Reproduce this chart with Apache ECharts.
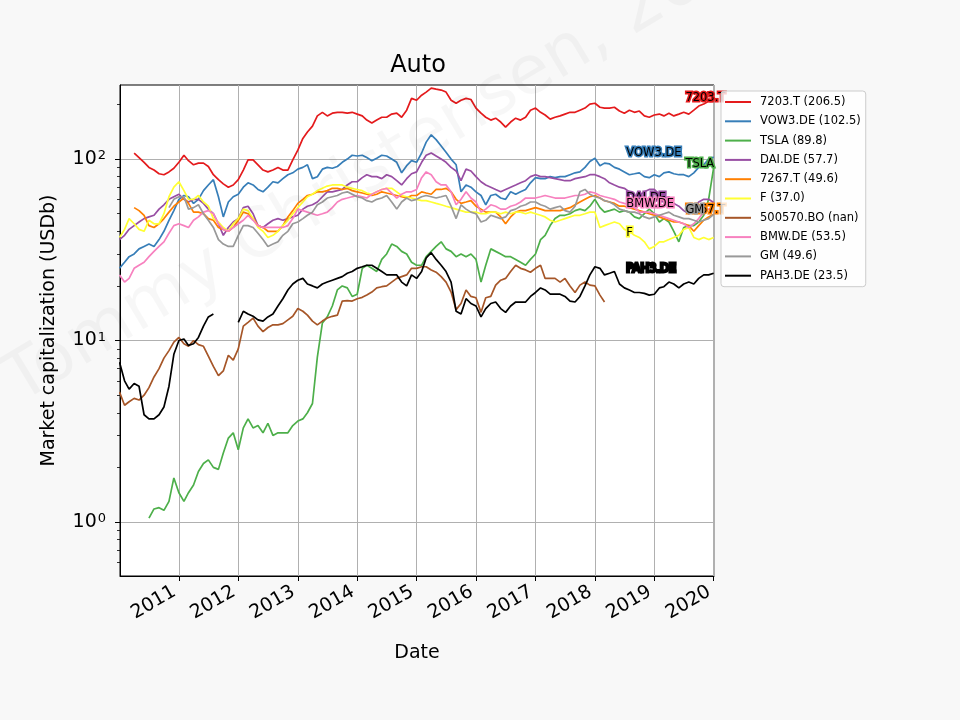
<!DOCTYPE html>
<html>
<head>
<meta charset="utf-8">
<title>Auto</title>
<script src="https://cdn.jsdelivr.net/npm/echarts@6/dist/echarts.min.js"></script>
<style>
  html, body { margin: 0; padding: 0; background: #f8f8f8; }
  #chart { width: 960px; height: 720px; }
</style>
</head>
<body>
<div id="chart"></div>
<script>
// tickers, legend values (last market cap, USDb) and line colours
var tickers = ['7203.T', 'VOW3.DE', 'TSLA', 'DAI.DE', '7267.T', 'F', '500570.BO', 'BMW.DE', 'GM', 'PAH3.DE'];
var lastCaps = ['206.5', '102.5', '89.8', '57.7', '49.6', '37.0', 'nan', '53.5', '49.6', '23.5'];
var colors = ['#e41a1c', '#377eb8', '#4daf4a', '#984ea3', '#ff7f00', '#ffff33', '#a65628', '#f781bf', '#999999', '#000000'];

// where the name tags sit along the time axis
var labelDates = ['2019-07-08', '2018-07-10', '2019-07-08', '2018-07-10', '2019-07-08',
                  '2018-07-10', '2019-07-08', '2018-07-10', '2019-07-08', '2018-07-10'];

// y axis ticks
var majorY = [1, 10, 100];
var minorY = [0.6, 0.7, 0.8, 0.9, 2, 3, 4, 5, 6, 7, 8, 9, 20, 30, 40, 50, 60, 70, 80, 90, 200];

// monthly sample dates, Jan 2010 .. Jan 2020 (121 points)
var months = [];
for (var yr = 2010; yr <= 2020; yr++) {
  for (var mo = 1; mo <= 12; mo++) {
    if (yr === 2020 && mo > 1) break;
    months.push(yr + '-' + (mo < 10 ? '0' : '') + mo + '-01');
  }
}

// market capitalization, USDb, one row per year
var cap7203 = [
  null, null, null, 108, 102, 96, 90, 87, 83, 82, 85, 89,
  96, 105, 98, 93, 95, 95, 91, 82, 77, 73, 70, 72,
  77, 87, 99, 99, 93, 87, 85, 87, 90, 87, 87, 99,
  112, 130, 141, 152, 173, 181, 173, 179, 181, 181, 179, 181,
  177, 173, 164, 158, 164, 170, 170, 177, 179, 170, 186, 216,
  211, 225, 234, 246, 243, 240, 234, 211, 203, 211, 216, 213,
  191, 179, 170, 164, 168, 160, 150, 160, 168, 164, 170, 186,
  191, 181, 175, 166, 170, 173, 177, 181, 181, 186, 191, 201,
  203, 193, 191, 191, 193, 184, 179, 186, 181, 184, 173, 170,
  175, 177, 173, 179, 173, 177, 181, 177, 186, 196, 201, 208,
  206.5
];
var capVOW3 = [
  25, 27, 29, 30, 32, 33, 34, 33, 36, 40, 46, 52,
  60, 63, 62, 57, 60, 67, 72, 77, 62, 48, 58, 62,
  64, 70, 74, 72, 68, 66, 70, 75, 74, 78, 82, 84,
  88, 90, 93, 78, 80, 88, 90, 89, 91, 96, 100, 105,
  104, 105, 102, 98, 101, 105, 104, 100, 96, 84, 92, 98,
  96, 108, 124, 136, 128, 118, 109, 100, 93, 66, 72, 70,
  66, 63, 56, 63, 64, 61, 60, 66, 64, 66, 68, 74,
  79, 78, 78, 80, 79, 80, 80, 82, 84, 85, 90, 97,
  101, 92, 95, 94, 90, 88, 85, 82, 83, 84, 80, 79,
  82, 80, 84, 85, 83, 82, 82, 80, 84, 90, 93, 100,
  102.5
];
var capTSLA = [
  null, null, null, null, null, null, 1.05, 1.18, 1.2, 1.16, 1.3, 1.75,
  1.45, 1.3, 1.45, 1.6, 1.9, 2.1, 2.2, 2.0, 1.95, 2.4, 2.9, 3.1,
  2.5, 3.3, 3.7, 3.3, 3.4, 3.1, 3.5, 3.0, 3.1, 3.1, 3.1, 3.4,
  3.6, 3.7, 4.0, 4.5, 8.1, 12.5, 13.5, 15.5, 19, 20, 19.5, 17.5,
  18, 25, 26, 25, 24, 28, 30, 34, 33, 31, 30, 27,
  26, 26, 29, 31, 33, 35, 32, 31, 29, 30, 29, 30,
  28, 21, 26, 32, 31, 30, 29, 29, 28, 27, 26, 28,
  30, 36, 38, 43, 47, 49, 49, 50, 52, 53, 52, 55,
  60, 54, 51, 52, 53, 51, 52, 51, 48, 47, 50, 53,
  50, 45, 47, 45, 40, 35, 42, 43, 43, 45, 49, 60,
  89.8
];
var capDAI = [
  36, 38, 41, 43, 45, 47, 48, 49, 53, 56, 60, 62,
  64, 60, 58, 60, 60, 57, 53, 50, 44, 38, 42, 45,
  47, 54, 55, 50, 43, 42, 44, 46, 47, 46, 47, 48,
  49, 53, 55, 56, 58, 62, 66, 66, 67, 68, 72, 75,
  75, 79, 82, 80, 80, 78, 82, 80, 76, 72, 78, 83,
  85, 96, 105, 108, 104, 100, 96, 90, 86, 76, 88, 86,
  80, 75, 72, 70, 68, 66, 68, 70, 72, 74, 76, 80,
  82, 80, 80, 79, 78, 77, 76, 76, 78, 79, 80, 82,
  82, 80, 78, 74, 72, 70, 69, 66, 63, 63, 66, 68,
  68, 64, 61, 62, 57, 55, 52, 50, 54, 58, 60, 60,
  57.7
];
var cap7267 = [
  null, null, null, 54, 52, 49, 43, 42, 44, 47, 51, 55,
  58, 61, 57, 51, 51, 50, 47, 46, 42, 41, 40, 42,
  46, 51, 50, 47, 43, 42, 40, 40, 40, 43, 48, 52,
  57, 60, 63, 64, 66, 66, 67, 69, 69, 68, 69, 67,
  66, 65, 64, 63, 64, 66, 65, 64, 63, 62, 61, 63,
  63, 66, 65, 64, 68, 68, 69, 66, 60, 57, 58, 59,
  55, 53, 51, 51, 51, 48, 44, 48, 51, 52, 52, 53,
  54, 53, 52, 52, 52, 52, 53, 54, 56, 58, 60, 62,
  63, 61, 59, 58, 57, 55, 55, 54, 53, 52, 51, 50,
  49, 48, 47, 46, 45, 45, 44, 43, 40, 43, 46, 48,
  49.6
];
var capF = [
  37, 41, 47, 44, 41, 40, 46, 44, 44, 50, 62, 70,
  75, 67, 60, 60, 63, 58, 55, 47, 45, 42, 40, 44,
  47, 53, 52, 47, 42, 40, 37, 38, 40, 43, 46, 50,
  54, 58, 62, 64, 67, 69, 71, 72, 72, 72, 70, 69,
  68, 67, 65, 64, 66, 68, 69, 69, 66, 63, 62, 61,
  60, 59, 59, 58, 57, 56, 55, 54, 53, 52, 51, 51,
  51, 50, 50, 51, 51, 50, 51, 50, 51, 51, 50, 51,
  50, 49, 48, 46, 45, 46, 47, 48, 49, 49, 50, 51,
  51, 42, 43, 44, 45, 44, 41, 40, 38, 37, 35, 32,
  33, 35, 35, 36, 37, 38, 41, 42, 37, 36, 37, 36,
  37
];
var cap500570 = [
  5.2, 4.4, 4.6, 4.8, 4.7, 5.0, 5.5, 6.3, 7.0, 8.0, 8.8, 9.8,
  10.4, 9.6, 9.3, 10.0, 9.5, 9.3, 8.2, 7.2, 6.4, 6.8, 8.3, 7.8,
  9.0, 12.0, 12.6, 13.3, 12.0, 11.2, 11.8, 12.2, 12.2, 12.4, 13.0, 13.6,
  15.0, 14.5, 13.8, 12.8, 12.2, 12.8, 13.3, 13.6, 13.8, 16.5, 16.6, 16.5,
  17.0, 17.3, 17.8, 18.5, 19.5, 19.8, 20.0, 21.0, 22.0, 22.5, 23.0, 25.0,
  25.0, 25.5, 25.5, 24.5, 23.8, 22.5, 21.0, 18.5, 14.8, 16.0, 19.0, 17.5,
  17.2, 14.3, 17.2, 17.5, 20.2, 21.5, 22.0, 24.0, 26.0, 25.0, 24.5, 23.8,
  25.0, 26.0, 22.0, 22.0, 22.0, 21.0, 22.0, 20.0, 18.4, 20.2, 21.0, 20.2,
  20.0, 17.8, 16.3, null, null, null, null, null, null, null, null, null,
  null, null, null, null, null, null, null, null, null, null, null, null,
  null
];
var capBMW = [
  23, 21, 22, 25, 26, 27, 29, 31, 33, 35, 39, 43,
  44, 43, 42, 46, 48, 51, 52, 50, 44, 41, 40, 42,
  44, 46, 49, 46, 43, 42, 42, 42, 42, 42, 43, 47,
  53, 52, 51, 50, 49, 50, 51, 54, 58, 60, 61, 62,
  63, 62, 61, 64, 66, 68, 69, 65, 61, 64, 66, 66,
  68, 79, 85, 82, 75, 72, 72, 66, 56, 60, 66, 61,
  58, 51, 53, 56, 55, 53, 53, 55, 56, 58, 61, 61,
  61, 62, 63, 62, 61, 61, 61, 62, 63, 63, 64, 66,
  65, 63, 62, 61, 60, 58, 57, 56, 54, 51, 51, 51,
  50, 49, 48, 47, 46, 45, 44, 42, 44, 47, 51, 53,
  53.5
];
var capGM = [
  null, null, null, null, null, null, null, null, null, null, 54, 60,
  62, 62, 53, 54, 56, 50, 46, 42, 36, 34, 33, 33,
  38, 43, 43, 42, 39, 36, 33, 34, 35, 38, 40, 44,
  45, 47, 49, 51, 56, 58, 61, 62, 63, 65, 66, 64,
  62, 61, 59, 58, 60, 61, 63, 58, 53, 58, 61, 59,
  60, 62, 63, 62, 61, 62, 63, 55, 47, 56, 53, 51,
  50, 45, 46, 49, 48, 47, 48, 52, 53, 55, 56, 58,
  58, 56, 55, 53, 54, 55, 52, 51, 55, 66, 68, 64,
  62, 61, 59, 58, 56, 53, 52, 51, 51, 50, 48, 47,
  48, 49, 50, 51, 49, 48, 47, 47, 46, 45, 46, 47,
  49.6
];
var capPAH3 = [
  7.6, 6.0, 5.4, 5.8, 5.6, 3.9, 3.7, 3.7, 3.9, 4.3, 5.6, 8.4,
  10.0, 10.2, 9.4, 9.6, 10.4, 12.0, 13.5, 14.0, null, null, null, null,
  12.6, 14.5, 14.0, 13.6, 13.0, 12.8, 13.5, 14.0, 15.5, 17.0, 19.0, 20.5,
  21.5, 22.0, 20.5, 20.0, 19.5, 20.5, 21.0, 21.5, 22.0, 22.5, 23.5, 24.0,
  25.0, 25.5, 26.0, 26.0, 25.0, 24.0, 23.0, 23.0, 23.0, 21.0, 20.0, 23.0,
  22.0, 24.0, 28.5, 30.5, 28.0, 26.0, 24.0, 21.0, 14.5, 14.0, 17.0, 16.0,
  15.5, 13.5, 15.0, 16.0, 16.3, 15.0, 14.3, 15.5, 16.3, 16.3, 16.3, 17.5,
  18.4, 19.5, 19.0, 18.0, 18.0, 18.0, 17.5, 16.5, 16.3, 17.5, 20.0, 23.0,
  25.5, 25.0, 23.0, 23.5, 24.0, 20.5, 19.5, 19.0, 18.4, 18.4, 18.2, 17.8,
  18.0, 19.5, 19.8, 21.0, 20.5, 19.5, 20.5, 21.0, 20.5, 22.0, 23.0, 23.0,
  23.5
];

var allCaps = [cap7203, capVOW3, capTSLA, capDAI, cap7267, capF, cap500570, capBMW, capGM, capPAH3];
var font = 'DejaVu Sans';
var YEAR = 365 * 24 * 3600 * 1000;

var chart = echarts.init(document.getElementById('chart'), null, { renderer: 'canvas' });

var series = tickers.map(function (t, i) {
  var pts = months.map(function (d, k) { return [d, allCaps[i][k]]; });
  var s = {
    name: t + ' (' + lastCaps[i] + ')',
    type: 'line',
    data: pts,
    showSymbol: false,
    connectNulls: false,
    color: colors[i],
    lineStyle: { width: 1.7, color: colors[i] },
    emphasis: { disabled: true },
    z: 2
  };
  var last = parseFloat(lastCaps[i]);
  if (!isNaN(last)) {
    s.markPoint = {
      silent: true,
      z: 5,
      symbol: 'rect',
      symbolSize: 1,
      itemStyle: { color: 'rgba(0,0,0,0)' },
      label: {
        show: true,
        position: 'right',
        distance: 0,
        offset: [0, -4],
        formatter: t,
        color: '#000',
        fontFamily: font,
        fontSize: 11.5,
        textBorderColor: colors[i],
        textBorderWidth: 3
      },
      data: [{ coord: [labelDates[i], last] }]
    };
  }
  return s;
});

var option = {
  backgroundColor: '#f8f8f8',
  animation: false,
  textStyle: { fontFamily: font },
  title: {
    text: 'Auto',
    left: 413,
    top: 49,
    textAlign: 'center',
    textStyle: { fontFamily: font, fontSize: 24, fontWeight: 'normal', color: '#000' }
  },
  grid: {
    left: 120, top: 85, width: 594, height: 491,
    show: true, backgroundColor: '#ffffff', borderColor: '#000', borderWidth: 1,
    outerBoundsMode: 'none'
  },
  legend: {
    orient: 'vertical',
    left: 721,
    top: 91,
    z: 8,
    icon: 'rect',
    itemWidth: 26,
    itemHeight: 2,
    itemGap: 7.3,
    padding: [5, 5, 5, 4],
    backgroundColor: 'rgba(255,255,255,0.8)',
    borderColor: '#cccccc',
    borderWidth: 1,
    borderRadius: 3,
    textStyle: { fontFamily: font, fontSize: 11.5, color: '#000', padding: [0, 0, 0, 4] },
    data: tickers.map(function (t, i) { return t + ' (' + lastCaps[i] + ')'; })
  },
  xAxis: {
    type: 'time',
    min: '2010-01-04',
    max: '2020-01-03',
    minInterval: YEAR,
    maxInterval: YEAR + 24 * 3600 * 1000,
    name: 'Date',
    nameLocation: 'middle',
    nameGap: 68,
    nameTextStyle: { fontFamily: font, fontSize: 19, color: '#000' },
    axisLine: { show: true, onZero: false, lineStyle: { color: '#000', width: 1 } },
    axisTick: { show: true, length: 5, lineStyle: { color: '#000', width: 1 } },
    axisLabel: {
      rotate: 30,
      margin: 12,
      padding: [0, 5, 0, 0],
      fontFamily: font,
      fontSize: 19,
      color: '#000',
      hideOverlap: false,
      formatter: '{yyyy}'
    },
    splitLine: { show: true, lineStyle: { color: '#b0b0b0', width: 1 } }
  },
  yAxis: [{
    type: 'log',
    logBase: 10,
    min: 0.504,
    max: 256,
    name: 'Market capitalization (USDb)',
    nameLocation: 'middle',
    nameGap: 61,
    nameTextStyle: { fontFamily: font, fontSize: 19, color: '#000' },
    axisLine: { show: true, lineStyle: { color: '#000', width: 1 } },
    axisTick: { show: true, length: 5, customValues: majorY, lineStyle: { color: '#000', width: 1 } },
    axisLabel: {
      customValues: majorY,
      margin: 14,
      color: '#000',
      formatter: function (v) { return '{b|10}{s|' + Math.round(Math.log10(v)) + '}'; },
      rich: {
        b: { fontFamily: font, fontSize: 19, color: '#000', verticalAlign: 'bottom', lineHeight: 19 },
        s: { fontFamily: font, fontSize: 13, color: '#000', verticalAlign: 'top', lineHeight: 13, padding: [0, 0, 9, 1] }
      }
    },
    splitLine: { show: true, lineStyle: { color: '#b0b0b0', width: 1 } }
  }, {
    type: 'log',
    logBase: 10,
    min: 0.504,
    max: 256,
    position: 'left',
    axisLine: { show: false },
    axisTick: { show: true, length: 3, customValues: minorY, lineStyle: { color: '#000', width: 0.8 } },
    axisLabel: { show: false },
    splitLine: { show: false }
  }],
  graphic: [{
    type: 'text',
    silent: true,
    z: 100,
    x: 391,
    y: 160,
    rotation: 31 * Math.PI / 180,
    style: {
      text: 'Tommy Christensen, 2020',
      fontFamily: font,
      fontSize: 68,
      fill: 'rgba(0,0,0,0.03)',
      align: 'center',
      verticalAlign: 'middle'
    }
  }],
  series: series
};

chart.setOption(option);

window.addEventListener('resize', function () {
  chart.resize();
});
</script>
</body>
</html>
